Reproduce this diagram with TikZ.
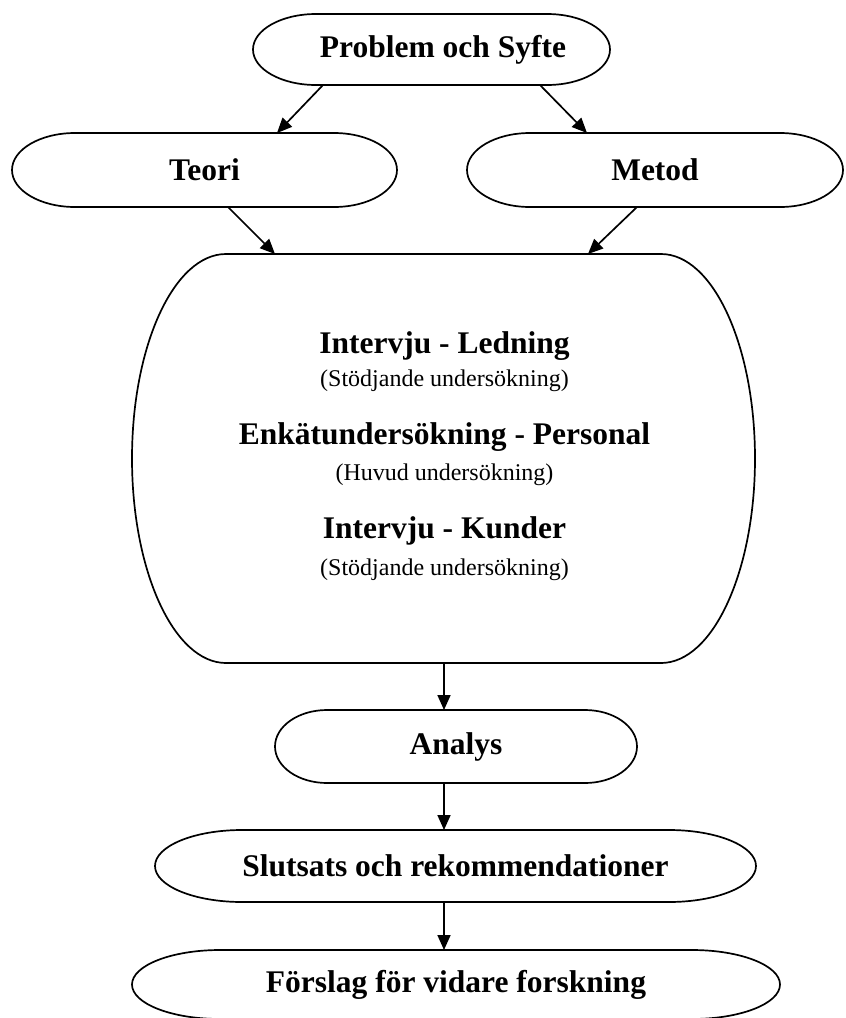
\documentclass[tikz,border=0pt]{standalone}
\usepackage{fontspec}
\setmainfont{Liberation Serif}
\usetikzlibrary{arrows.meta}
\newcommand\headfont{\fontsize{31.5}{36}\selectfont\bfseries}
\newcommand\subfont{\fontsize{24}{28}\selectfont}
\newcommand\termline[3]{\draw[shapeline] ([xshift=-#2]#1.north east) arc[start angle=90,end angle=-90,x radius=#2,y radius=#3] -- ([xshift=#2]#1.south west) arc[start angle=270,end angle=90,x radius=#2,y radius=#3] -- cycle;}
\tikzset{
  term/.style={rectangle, draw=none, inner sep=0pt, outer sep=0pt, font=\headfont, align=center},
  shapeline/.style={draw=black, line width=1.7pt},
  arr/.style={draw=black, line width=1.7pt, -{Triangle[length=15pt,width=13pt]}},
  heading/.style={anchor=base, font=\headfont, inner sep=0pt},
  subhead/.style={anchor=base, font=\subfont, inner sep=0pt}
}
\begin{document}
\begin{tikzpicture}[x=1pt,y=-1pt]
\useasboundingbox (0,0) rectangle (846,1018);
\fill[white] (0,0) rectangle (846,1018);

\node[term, minimum width=357pt, minimum height=71pt] (prob) at (431.5,49.5) {\hspace*{23pt}Problem och Syfte};
\node[term, minimum width=385pt, minimum height=74pt] (teori) at (204.5,170) {Teori};
\node[term, minimum width=376pt, minimum height=74pt] (metod) at (655,170) {Metod};
\node[term, minimum width=623pt, minimum height=409pt] (big) at (443.5,458.5) {};
\node[term, minimum width=362pt, minimum height=73pt] (analys) at (456,746.5) {Analys};
\node[term, minimum width=601pt, minimum height=72pt] (slut) at (455.5,866) {Slutsats och rekommendationer};
\node[term, minimum width=648pt, minimum height=69pt] (forslag) at (456,984.5) {Förslag för vidare forskning};

\termline{prob}{63pt}{35.5pt}
\termline{teori}{63pt}{37pt}
\termline{metod}{63pt}{37pt}
\termline{big}{94pt}{204.5pt}
\termline{analys}{52pt}{36.5pt}
\termline{slut}{87pt}{36pt}
\termline{forslag}{88pt}{34.5pt}

\node[heading] (t1) at (444.5,353) {Intervju - Ledning};
\node[subhead] (s1) at (444.5,386) {(Stödjande undersökning)};
\node[heading] (t2) at (444.5,444) {Enkätundersökning - Personal};
\node[subhead] (s2) at (444.5,480) {(Huvud undersökning)};
\node[heading] (t3) at (444.5,538) {Intervju - Kunder};
\node[subhead] (s3) at (444.5,575) {(Stödjande undersökning)};

\draw[arr] ([xshift=-108.5pt]prob.south) -- ([xshift=72.5pt]teori.north);
\draw[arr] ([xshift=108.5pt]prob.south) -- ([xshift=-68pt]metod.north);
\draw[arr] ([xshift=23.5pt]teori.south) -- ([xshift=-168.5pt]big.north);
\draw[arr] ([xshift=-18pt]metod.south) -- ([xshift=144.5pt]big.north);
\draw[arr] ([xshift=0.5pt]big.south) -- ([xshift=-12pt]analys.north);
\draw[arr] ([xshift=-12pt]analys.south) -- ([xshift=-11.5pt]slut.north);
\draw[arr] ([xshift=-11.5pt]slut.south) -- ([xshift=-12pt]forslag.north);
\end{tikzpicture}
\end{document}
